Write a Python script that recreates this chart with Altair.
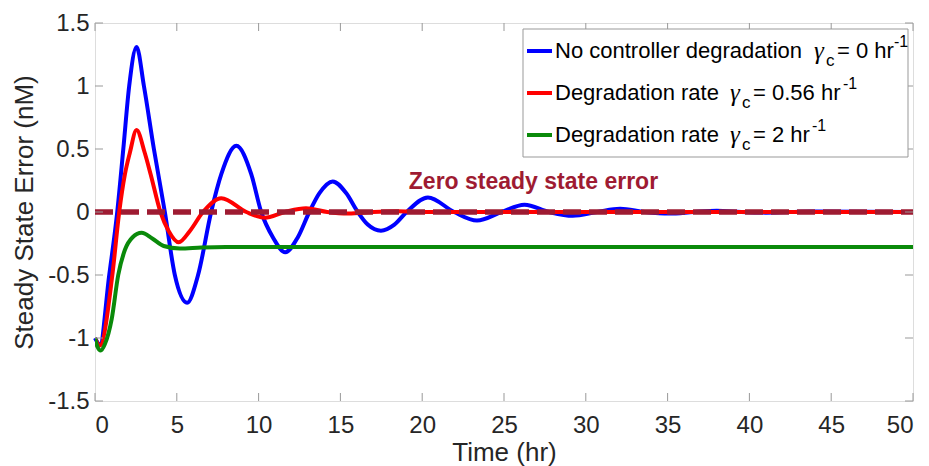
import altair as alt
import pandas as pd

# ---------------- data ----------------
blue_t = [0.0, 0.3, 0.87, 1.36, 1.73, 2.09, 2.54, 2.99, 3.6, 4.27, 4.88, 5.63, 6.3, 7.1,
          7.72, 8.64, 9.55, 10.16, 10.87, 11.63, 12.4, 13.1, 13.72, 14.53, 15.35, 16.06,
          16.67, 17.48, 18.3, 19.05, 20.35, 21.95, 23.35, 24.85, 26.25, 27.75, 29.2, 30.7,
          32.1, 33.6, 35.1, 36.6, 38.0, 39.5, 41.0, 42.5, 44.0, 50.0]
blue_v = [-1.0, -1.05, -0.5, 0.0, 0.5, 1.0, 1.31, 1.0, 0.5, 0.0, -0.5, -0.72, -0.5, 0.0,
          0.3, 0.525, 0.3, 0.0, -0.2, -0.32, -0.2, 0.0, 0.15, 0.243, 0.15, 0.0,
          -0.1, -0.148, -0.1, 0.0, 0.115, 0.0, -0.068, 0.0, 0.058, 0.0, -0.03, 0.0,
          0.025, 0.0, -0.012, 0.0, 0.01, 0.0, -0.005, 0.0, 0.003, 0.0]

red_t = [0.0, 0.3, 1.06, 1.48, 1.83, 2.13, 2.54, 3.04, 3.4, 4.0, 4.5, 5.12, 5.8, 6.6,
         7.72, 9.25, 10.37, 11.6, 12.9, 14.2, 15.5, 17.0, 18.5, 20.0, 50.0]
red_v = [-1.0, -1.06, -0.5, 0.0, 0.3, 0.47, 0.65, 0.47, 0.3, 0.0, -0.15, -0.24, -0.15, 0.0,
         0.11, 0.0, -0.045, 0.0, 0.03, 0.0, -0.012, 0.0, 0.005, 0.0, 0.0]

green_t = [0.0, 0.15, 0.35, 0.6, 1.02, 1.42, 1.83, 2.3, 2.85, 3.5, 4.2, 5.18, 6.5, 8.0, 50.0]
green_v = [-1.0, -1.07, -1.1, -1.05, -0.85, -0.5, -0.3, -0.2, -0.165, -0.21, -0.27, -0.29,
           -0.282, -0.278, -0.278]

zero_t = [0, 50]
zero_v = [0, 0]

x_ticks = [0, 5, 10, 15, 20, 25, 30, 35, 40, 45, 50]
y_ticks = [-1.5, -1.0, -0.5, 0.0, 0.5, 1.0, 1.5]

series_names = ["No controller degradation", "Degradation rate", "Degradation rate"]
gamma_values = ["0", "0.56", "2"]
annotation_text = ["Zero steady state error"]
annotation_t = [26.8]
annotation_v = [0.18]

# ---------------- layout constants ----------------
W, H = 818, 378
FONT = "Liberation Sans"
BLUE, RED, GREEN, MAROON = "#0000ff", "#ff0000", "#0a8a0a", "#9e1b32"
FRAME = "#999999"
TXT = "#262626"

xs = alt.Scale(domain=[0, 50], nice=False, zero=False)
ys = alt.Scale(domain=[-1.5, 1.5], nice=False, zero=False)

def series(t, v, color, width=4):
    df = pd.DataFrame({"t": t, "v": v})
    return alt.Chart(df).mark_line(color=color, strokeWidth=width, interpolate="monotone",
                                   clip=True).encode(
        x=alt.X("t:Q", scale=xs),
        y=alt.Y("v:Q", scale=ys),
    )

x_axis = alt.Axis(values=x_ticks, title="Time (hr)", grid=False, domain=False, ticks=False,
                  labelFontSize=24, labelColor=TXT, labelPadding=12, titleFontSize=26,
                  titleColor=TXT, titleFontWeight="normal", titlePadding=2, labelFont=FONT,
                  titleFont=FONT)
y_axis = alt.Axis(values=y_ticks, title="Steady State Error (nM)", grid=False, domain=False,
                  ticks=False, labelFontSize=24, labelColor=TXT, labelPadding=6,
                  labelExpr="'' + datum.value", titleFontSize=26, titleColor=TXT,
                  titleFontWeight="normal", titlePadding=10, labelFont=FONT, titleFont=FONT)

base_df = pd.DataFrame({"t": blue_t, "v": blue_v})
blue = alt.Chart(base_df).mark_line(color=BLUE, strokeWidth=4, interpolate="monotone").encode(
    x=alt.X("t:Q", scale=xs, axis=x_axis),
    y=alt.Y("v:Q", scale=ys, axis=y_axis),
)
red = series(red_t, red_v, RED)
green = series(green_t, green_v, GREEN)
zero = alt.Chart(pd.DataFrame({"t": zero_t, "v": zero_v})).mark_line(
    color=MAROON, strokeWidth=5.5, strokeDash=[18, 8]).encode(
    x=alt.X("t:Q", scale=xs), y=alt.Y("v:Q", scale=ys))

annot = alt.Chart(pd.DataFrame({"t": annotation_t, "v": annotation_v, "s": annotation_text})).mark_text(
    font=FONT, fontSize=23, fontWeight="bold", color=MAROON, align="center",
    baseline="alphabetic").encode(
    x=alt.X("t:Q", scale=xs), y=alt.Y("v:Q", scale=ys), text="s:N")

# inward ticks on all four sides (MATLAB box style)
xt = pd.DataFrame({"t": x_ticks})
yt = pd.DataFrame({"v": y_ticks})
tick_style = dict(color=FRAME, strokeWidth=1)
ticks_bottom = alt.Chart(xt).mark_rule(**tick_style).encode(
    x=alt.X("t:Q", scale=xs), y=alt.value(H), y2=alt.value(H - 8))
ticks_top = alt.Chart(xt).mark_rule(**tick_style).encode(
    x=alt.X("t:Q", scale=xs), y=alt.value(0), y2=alt.value(8))
ticks_left = alt.Chart(yt).mark_rule(**tick_style).encode(
    y=alt.Y("v:Q", scale=ys), x=alt.value(0), x2=alt.value(8))
ticks_right = alt.Chart(yt).mark_rule(**tick_style).encode(
    y=alt.Y("v:Q", scale=ys), x=alt.value(W), x2=alt.value(W - 8))

# ---------------- custom legend (needs sub/superscripts) ----------------
one = pd.DataFrame({"a": [0]})

def txt(s, x, y, size=22, font=FONT, style="normal", color="#000000"):
    return alt.Chart(one).mark_text(text=s, align="left", baseline="alphabetic",
                                    fontSize=size, font=font, fontStyle=style,
                                    color=color).encode(x=alt.value(x), y=alt.value(y))

legend_box = alt.Chart(one).mark_rect(fill="white", stroke=FRAME, strokeWidth=1).encode(
    x=alt.value(428), x2=alt.value(813), y=alt.value(6), y2=alt.value(134))

legend_layers = [legend_box]
colors = [BLUE, RED, GREEN]
baselines = [35, 77, 119]
gamma_x = [719, 635, 635]
sup_x = [799, 748, 717]
for i in range(3):
    b = baselines[i]
    legend_layers.append(alt.Chart(one).mark_rule(color=colors[i], strokeWidth=4).encode(
        x=alt.value(432), x2=alt.value(457), y=alt.value(b - 7)))
    legend_layers.append(txt(series_names[i], 460, b))
    gx = gamma_x[i]
    legend_layers.append(txt("γ", gx, b + 1, size=25, font="Liberation Serif", style="italic"))
    legend_layers.append(txt("c", gx + 12, b + 8, size=17))
    legend_layers.append(txt("= " + gamma_values[i] + " hr", gx + 23, b))
    legend_layers.append(txt("-1", sup_x[i], b - 11, size=16))

chart = alt.layer(
    blue, red, green, zero, annot,
    ticks_bottom, ticks_top, ticks_left, ticks_right,
    *legend_layers,
).properties(
    width=W, height=H,
    autosize=alt.AutoSizeParams(type="none"),
    padding={"left": 95, "top": 23, "right": 16, "bottom": 65},
    background="white",
).configure_view(
    stroke=FRAME, strokeWidth=1,
).configure(font=FONT)

chart.save("out.html", embed_options={"renderer": "svg", "actions": False})
